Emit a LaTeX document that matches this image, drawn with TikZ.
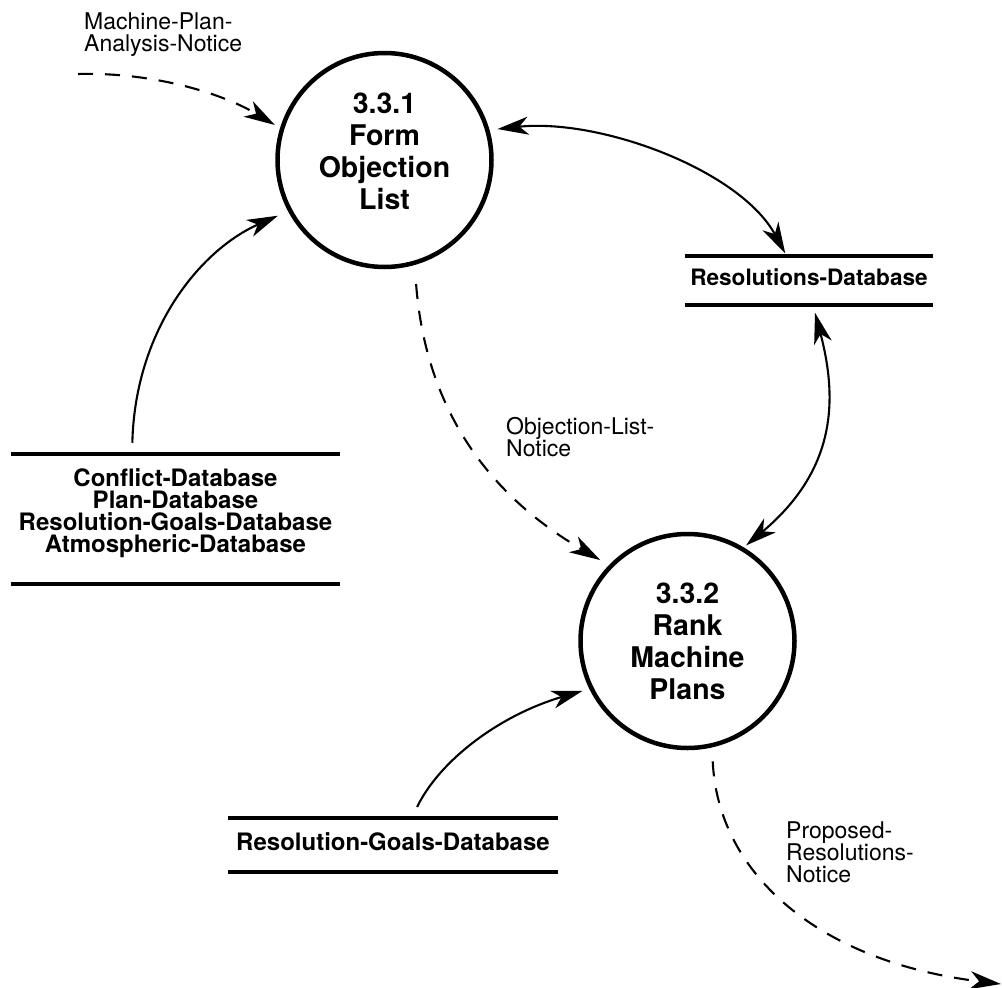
\documentclass[tikz,border=0pt]{standalone}
\usepackage{fontspec}
\setmainfont{TeX Gyre Heros}
\usetikzlibrary{arrows.meta,calc}
\begin{document}
\begin{tikzpicture}[x=1pt,y=-1pt,
  process/.style={circle,draw,line width=4.5pt,minimum size=214pt,inner sep=0pt,
    align=center,font=\bfseries\fontsize{28.5}{32}\selectfont},
  store/.style={inner sep=0pt,outer sep=0pt,align=center,
    font=\bfseries\fontsize{24}{22}\selectfont},
  storeline/.style={line width=4pt},
  tip/.tip={Stealth[length=31pt,width=18pt,inset=9pt]},
  flow/.style={line width=2.1pt,-tip},
  both/.style={line width=2.1pt,tip-tip},
  notice/.style={flow,dash pattern=on 15pt off 12pt},
  lbl/.style={inner sep=0pt,align=left,anchor=north west,
    font=\fontsize{23}{22}\selectfont}
]
\useasboundingbox (0,0) rectangle (1002,988);

% processes
\node[process] (c1) at (384.5,160) {3.3.1\\Form\\Objection\\List\rule[-17pt]{0pt}{17pt}};
\node[process] (c2) at (687.5,641) {3.3.2\\Rank\\Machine\\Plans};

% data stores
\node[store,minimum width=329pt,minimum height=130.5pt] (s1) at (175.5,519)
  {Conflict-Database\\Plan-Database\\Resolution-Goals-Database\\Atmospheric-Database\rule[-17.5pt]{0pt}{17.5pt}};
\node[store,font=\bfseries\fontsize{22.6}{24}\selectfont,minimum width=248pt,
  minimum height=49pt,text depth=7.5pt] (s2) at (809,280.5) {Resolutions-Database};
\node[store,minimum width=330pt,minimum height=54.5pt,text depth=7.5pt] (s3) at (393,845)
  {Resolution-Goals-Database};
\foreach \s in {s1,s2,s3}
  \draw[storeline] (\s.north west) -- (\s.north east) (\s.south west) -- (\s.south east);

% flow labels
\node[lbl] (mpa) at (84,12.5) {Machine-Plan-\\Analysis-Notice};
\node[lbl] (oln) at (506,417) {Objection-List-\\Notice};
\node[lbl] (prn) at (786,822) {Proposed-\\Resolutions-\\Notice};

% flows
\coordinate (mpaSrc) at (78,74);
\coordinate (prnEnd) at (1001,984);
\draw[notice,shorten >=6pt] (mpaSrc) .. controls (150,72) and (220,92) .. (c1.163);
\draw[flow,shorten <=11pt,shorten >=11pt] ($(s1.north west)!0.368!(s1.north east)$)
  .. controls (135,330) and (200,250) .. (c1.208);
\draw[both,shorten <=8pt,shorten >=3pt] (c1.16)
  .. controls (600,118) and (740,170) .. ($(s2.north west)!0.41!(s2.north east)$);
\draw[both,shorten <=8pt,shorten >=3pt] ($(s2.south west)!0.516!(s2.south east)$)
  .. controls (838,400) and (836,470) .. (c2.59);
\draw[notice,shorten <=19pt,shorten >=10pt] (c1.286)
  .. controls (425,400) and (480,490) .. (c2.136);
\draw[flow,shorten <=12pt,shorten >=7pt] ($(s3.north west)!0.557!(s3.north east)$)
  .. controls (440,760) and (500,715) .. (c2.206);
\draw[notice,shorten <=14pt] (c2.283) .. controls (718,875) and (820,962) .. (prnEnd);
\end{tikzpicture}
\end{document}
